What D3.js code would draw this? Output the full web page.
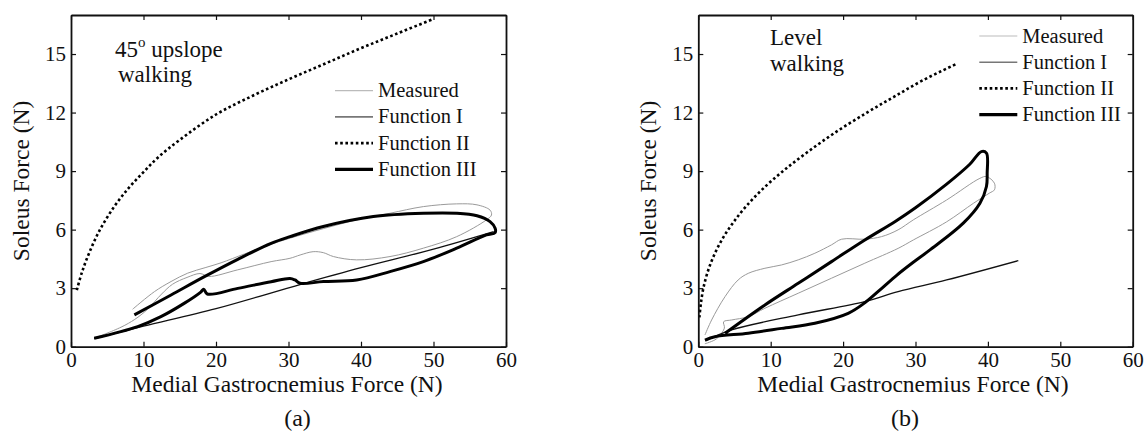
<!DOCTYPE html>
<html>
<head>
<meta charset="utf-8">
<script src="https://cdn.jsdelivr.net/npm/d3@7"></script>
<style>
  body { margin: 0; background: #fff; }
  text { font-family: "Liberation Serif", "Times New Roman", serif; fill: #111; }
</style>
</head>
<body>
<div class="canvas"></div>
<script>
// data: [MG force, soleus force] in N
const xTicks = [0, 10, 20, 30, 40, 50, 60];
const yTicks = [0, 3, 6, 9, 12, 15];
const legendLabels = ['Measured', 'Function I', 'Function II', 'Function III'];

// (a) 45 deg upslope walking
const upMeasured = [[8.5,1.92],[11.5,2.82],[13.8,3.34],[16.1,3.77],[18.5,4.05],[20.7,4.3],[23.9,4.75],[27.6,5.25],[30.2,5.56],[34.8,6.05],[39.4,6.5],[44,6.84],[48.6,7.18],[53.2,7.32],[56,7.27],[57.8,7.0],[58,6.75],[57.3,6.5],[53.2,5.64],[48.6,5.05],[44,4.62],[39.4,4.45],[36.2,4.62],[34.8,4.82],[33.4,4.87],[31.6,4.7],[30.2,4.53],[27.6,4.36],[23,3.94],[19,3.6],[17.8,3.75],[16,3.55],[14,3.2],[12.5,2.7],[10.5,1.9],[8.8,1.4],[6.9,1.0],[3.2,0.43]];
const upFn1 = [[3.2,0.42],[10,1.05],[20,1.95],[31.7,3.2],[40,4.05],[50,5.0],[58.3,5.9]];
const upFn2 = [[0.8,2.9],[1.5,3.8],[2.5,4.8],[4,6.0],[6,7.2],[8,8.15],[10,8.95],[12,9.7],[15,10.6],[20,11.9],[25,12.85],[30,13.7],[35,14.5],[40,15.3],[45,16.05],[50,16.8]];
const upFn3 = [[8.74,1.63],[13.8,2.65],[18.4,3.59],[23,4.48],[27.6,5.3],[30.2,5.64],[34.8,6.16],[41.7,6.67],[48.6,6.84],[53.2,6.84],[56,6.71],[57.8,6.41],[58.5,6.07],[58.5,5.85],[57.3,5.73],[53.2,5.05],[48.6,4.36],[44,3.85],[39.4,3.42],[34.8,3.34],[31.6,3.25],[30.9,3.42],[30.2,3.5],[27.6,3.33],[23,2.99],[18.8,2.7],[18.3,2.95],[17.9,2.8],[15.6,2.22],[12.4,1.54],[9.2,1.03],[3.2,0.43]];

// (b) level walking
const levMeasured = [[0.9,0.15],[2.5,0.4],[3.6,0.95],[3.5,1.28],[4.6,1.37],[6.9,1.54],[9.2,1.97],[13.8,2.74],[18.4,3.51],[23,4.28],[27.6,5.04],[29.7,5.47],[34.3,6.4],[38,7.35],[40.2,7.87],[40.9,8.04],[40.9,8.38],[39.8,8.72],[38.9,8.63],[34.3,7.52],[29.7,6.5],[27.6,5.99],[25.3,5.64],[23,5.51],[19.8,5.51],[18.4,5.22],[16.1,4.79],[13.8,4.45],[11.5,4.19],[9.2,4.02],[6.9,3.76],[5.5,3.42],[3.7,2.57],[1.84,1.37],[0.92,0.6]];
const levFn1 = [[1.0,0.3],[4.6,0.86],[13.8,1.63],[23,2.31],[27.6,2.82],[34.3,3.42],[44.2,4.41]];
const levFn2 = [[0.15,1.5],[0.35,2.2],[0.7,3.0],[1.38,3.93],[2.3,4.79],[3.45,5.6],[4.8,6.35],[6.5,7.15],[8.8,8.05],[11.7,9.0],[15,9.95],[19,11.0],[23.3,12.0],[27,12.8],[31,13.65],[35.7,14.5]];
const levFn3 = [[3.7,0.69],[9.2,2.14],[13.8,3.25],[18.4,4.36],[23,5.47],[27.2,6.42],[30,7.12],[34.3,8.33],[37.5,9.35],[39.1,10.0],[39.8,9.92],[39.9,8.9],[39.8,8.21],[38.9,7.35],[36.6,6.33],[32,4.96],[29.6,4.3],[27.4,3.66],[25.3,2.98],[23,2.25],[20.7,1.71],[16.1,1.2],[11.5,0.94],[6.9,0.69],[2.3,0.51],[0.92,0.34]];

const styles = {
  measured: {stroke:'#9a9a9a', width:1, dash:null},
  fn1: {stroke:'#111', width:1.3, dash:null},
  fn2: {stroke:'#000', width:2.6, dash:'2.6,2.6'},
  fn3: {stroke:'#000', width:3, dash:null}
};
const legendStyles = [
  {stroke:'#bbb', width:1.2, dash:null},
  {stroke:'#777', width:1.6, dash:null},
  {stroke:'#000', width:2.6, dash:'2.6,2.6'},
  {stroke:'#000', width:3.2, dash:null}
];

const svg = d3.select('.canvas').append('svg')
  .attr('width', 1145)
  .attr('height', 432);

const plotTop = 15, plotBottom = 346.7;

function panel(cfg) {
  const x = d3.scaleLinear().domain([0, 60]).range([cfg.left, cfg.right]);
  const y = d3.scaleLinear().domain([0, 17]).range([plotBottom, plotTop]);
  const g = svg.append('g');

  const line = d3.line().x(d => x(d[0])).y(d => y(d[1])).curve(d3.curveCatmullRom.alpha(0.5));

  const series = [[cfg.measured,'measured'],[cfg.fn1,'fn1'],[cfg.fn2,'fn2'],[cfg.fn3,'fn3']];
  series.forEach(([data, key]) => {
    const s = styles[key];
    g.append('path')
      .attr('d', line(data))
      .attr('fill', 'none')
      .attr('stroke', s.stroke)
      .attr('stroke-width', s.width)
      .attr('stroke-dasharray', s.dash)
      .attr('stroke-linejoin', 'round');
  });

  // axes, ticks inward like matlab
  const xb = g.append('g').attr('transform', `translate(0,${plotBottom})`)
    .call(d3.axisBottom(x).tickValues(xTicks).tickSizeInner(-5).tickSizeOuter(0).tickPadding(5));
  const xt = g.append('g').attr('transform', `translate(0,${plotTop})`)
    .call(d3.axisTop(x).tickValues(xTicks).tickSizeInner(-5).tickSizeOuter(0).tickFormat(''));
  const yl = g.append('g').attr('transform', `translate(${cfg.left},0)`)
    .call(d3.axisLeft(y).tickValues(yTicks).tickSizeInner(-5).tickSizeOuter(0).tickPadding(5));
  const yr = g.append('g').attr('transform', `translate(${cfg.right},0)`)
    .call(d3.axisRight(y).tickValues(yTicks).tickSizeInner(-5).tickSizeOuter(0).tickFormat(''));
  [xb, xt, yl, yr].forEach(a => {
    a.select('.domain').attr('stroke', '#111').attr('stroke-width', 1.8);
    a.selectAll('.tick line').attr('stroke', '#111').attr('stroke-width', 1.2);
    a.selectAll('.tick text').style('font-family', '"Liberation Serif", serif').style('font-size', '21px').attr('fill', '#111');
  });

  // axis titles
  g.append('text')
    .attr('x', cfg.xLabelX).attr('y', 391.7)
    .attr('text-anchor', 'middle')
    .style('font-size', '23.5px')
    .text('Medial Gastrocnemius Force (N)');
  g.append('text')
    .attr('transform', `translate(${cfg.yLabelX},${(plotTop + plotBottom) / 2}) rotate(-90)`)
    .attr('text-anchor', 'middle')
    .style('font-size', '23.5px')
    .text('Soleus Force (N)');
  g.append('text')
    .attr('x', cfg.capX).attr('y', 426)
    .attr('text-anchor', 'middle')
    .style('font-size', '24px')
    .text(cfg.caption);

  // legend
  legendLabels.forEach((lab, i) => {
    const ly = cfg.legY + i * 26.2;
    const s = legendStyles[i];
    g.append('line')
      .attr('x1', cfg.legX).attr('x2', cfg.legX + 38)
      .attr('y1', ly).attr('y2', ly)
      .attr('stroke', s.stroke).attr('stroke-width', s.width)
      .attr('stroke-dasharray', s.dash);
    g.append('text')
      .attr('x', cfg.legX + 43).attr('y', ly + 6.5)
      .style('font-size', '20.5px')
      .text(lab);
  });

  return g;
}

const ga = panel({left:71, right:506, measured:upMeasured, fn1:upFn1, fn2:upFn2, fn3:upFn3,
  xLabelX:287, yLabelX:29, capX:297.5, caption:'(a)', legX:335, legY:90.7});
const gb = panel({left:698.3, right:1132.7, measured:levMeasured, fn1:levFn1, fn2:levFn2, fn3:levFn3,
  xLabelX:913, yLabelX:656, capX:905, caption:'(b)', legX:979.3, legY:36});

// condition notes
const noteA = ga.append('text').attr('x', 115).attr('y', 56.7).style('font-size', '23px');
noteA.append('tspan').text('45');
noteA.append('tspan').attr('dy', -10).style('font-size', '15px').text('o');
noteA.append('tspan').attr('dy', 10).text(' upslope');
ga.append('text').attr('x', 118).attr('y', 81.7).style('font-size', '23px').text('walking');

gb.append('text').attr('x', 770).attr('y', 45).style('font-size', '23px').text('Level');
gb.append('text').attr('x', 770).attr('y', 70.7).style('font-size', '23px').text('walking');
</script>
</body>
</html>
